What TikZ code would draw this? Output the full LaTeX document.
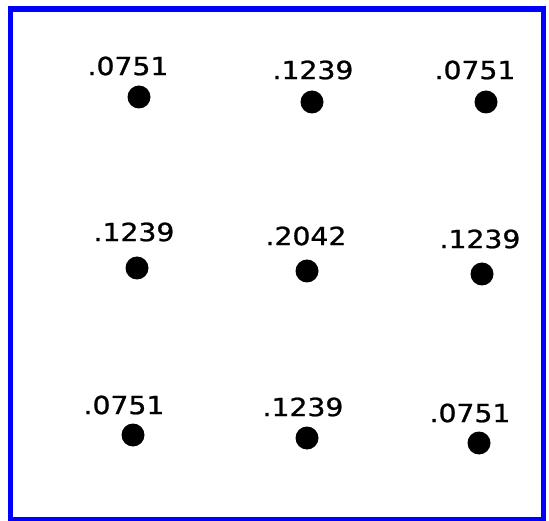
\documentclass[tikz,border=0pt]{standalone}
\usepackage{fontspec}
\newfontfamily\lblfont{DejaVu Sans}[FakeBold=0.9]
\tikzset{
  dotmark/.style={circle,fill=black,draw=none,minimum size=23pt,inner sep=0pt},
  weight/.style={inner sep=0pt,font=\lblfont\fontsize{25}{25}\selectfont},
  frame/.style={draw={rgb,255:red,0;green,0;blue,255},line width=5.5pt}
}
\newcommand{\wlabel}[1]{\scalebox{1.13}[1]{#1}}
\begin{document}
\begin{tikzpicture}[x=1pt,y=-1pt]
\useasboundingbox[fill=white] (0,0) rectangle (549,521);
\draw[frame] (10.5,9) rectangle (543.5,519.5);
% dots
\node[dotmark] (d11) at (139,97) {};
\node[dotmark] (d12) at (312,102) {};
\node[dotmark] (d13) at (486,102) {};
\node[dotmark] (d21) at (137,268) {};
\node[dotmark] (d22) at (307,271) {};
\node[dotmark] (d23) at (482,274) {};
\node[dotmark] (d31) at (133,435) {};
\node[dotmark] (d32) at (307,438) {};
\node[dotmark] (d33) at (479,443) {};
% labels
\node[weight] (l11) at (128,66) {\wlabel{.0751}};
\node[weight] (l12) at (313,70) {\wlabel{.1239}};
\node[weight] (l13) at (475,70) {\wlabel{.0751}};
\node[weight] (l21) at (134,232) {\wlabel{.1239}};
\node[weight] (l22) at (306,236) {\wlabel{.2042}};
\node[weight] (l23) at (480,239) {\wlabel{.1239}};
\node[weight] (l31) at (124,405) {\wlabel{.0751}};
\node[weight] (l32) at (303,407) {\wlabel{.1239}};
\node[weight] (l33) at (470,413) {\wlabel{.0751}};
\end{tikzpicture}
\end{document}
